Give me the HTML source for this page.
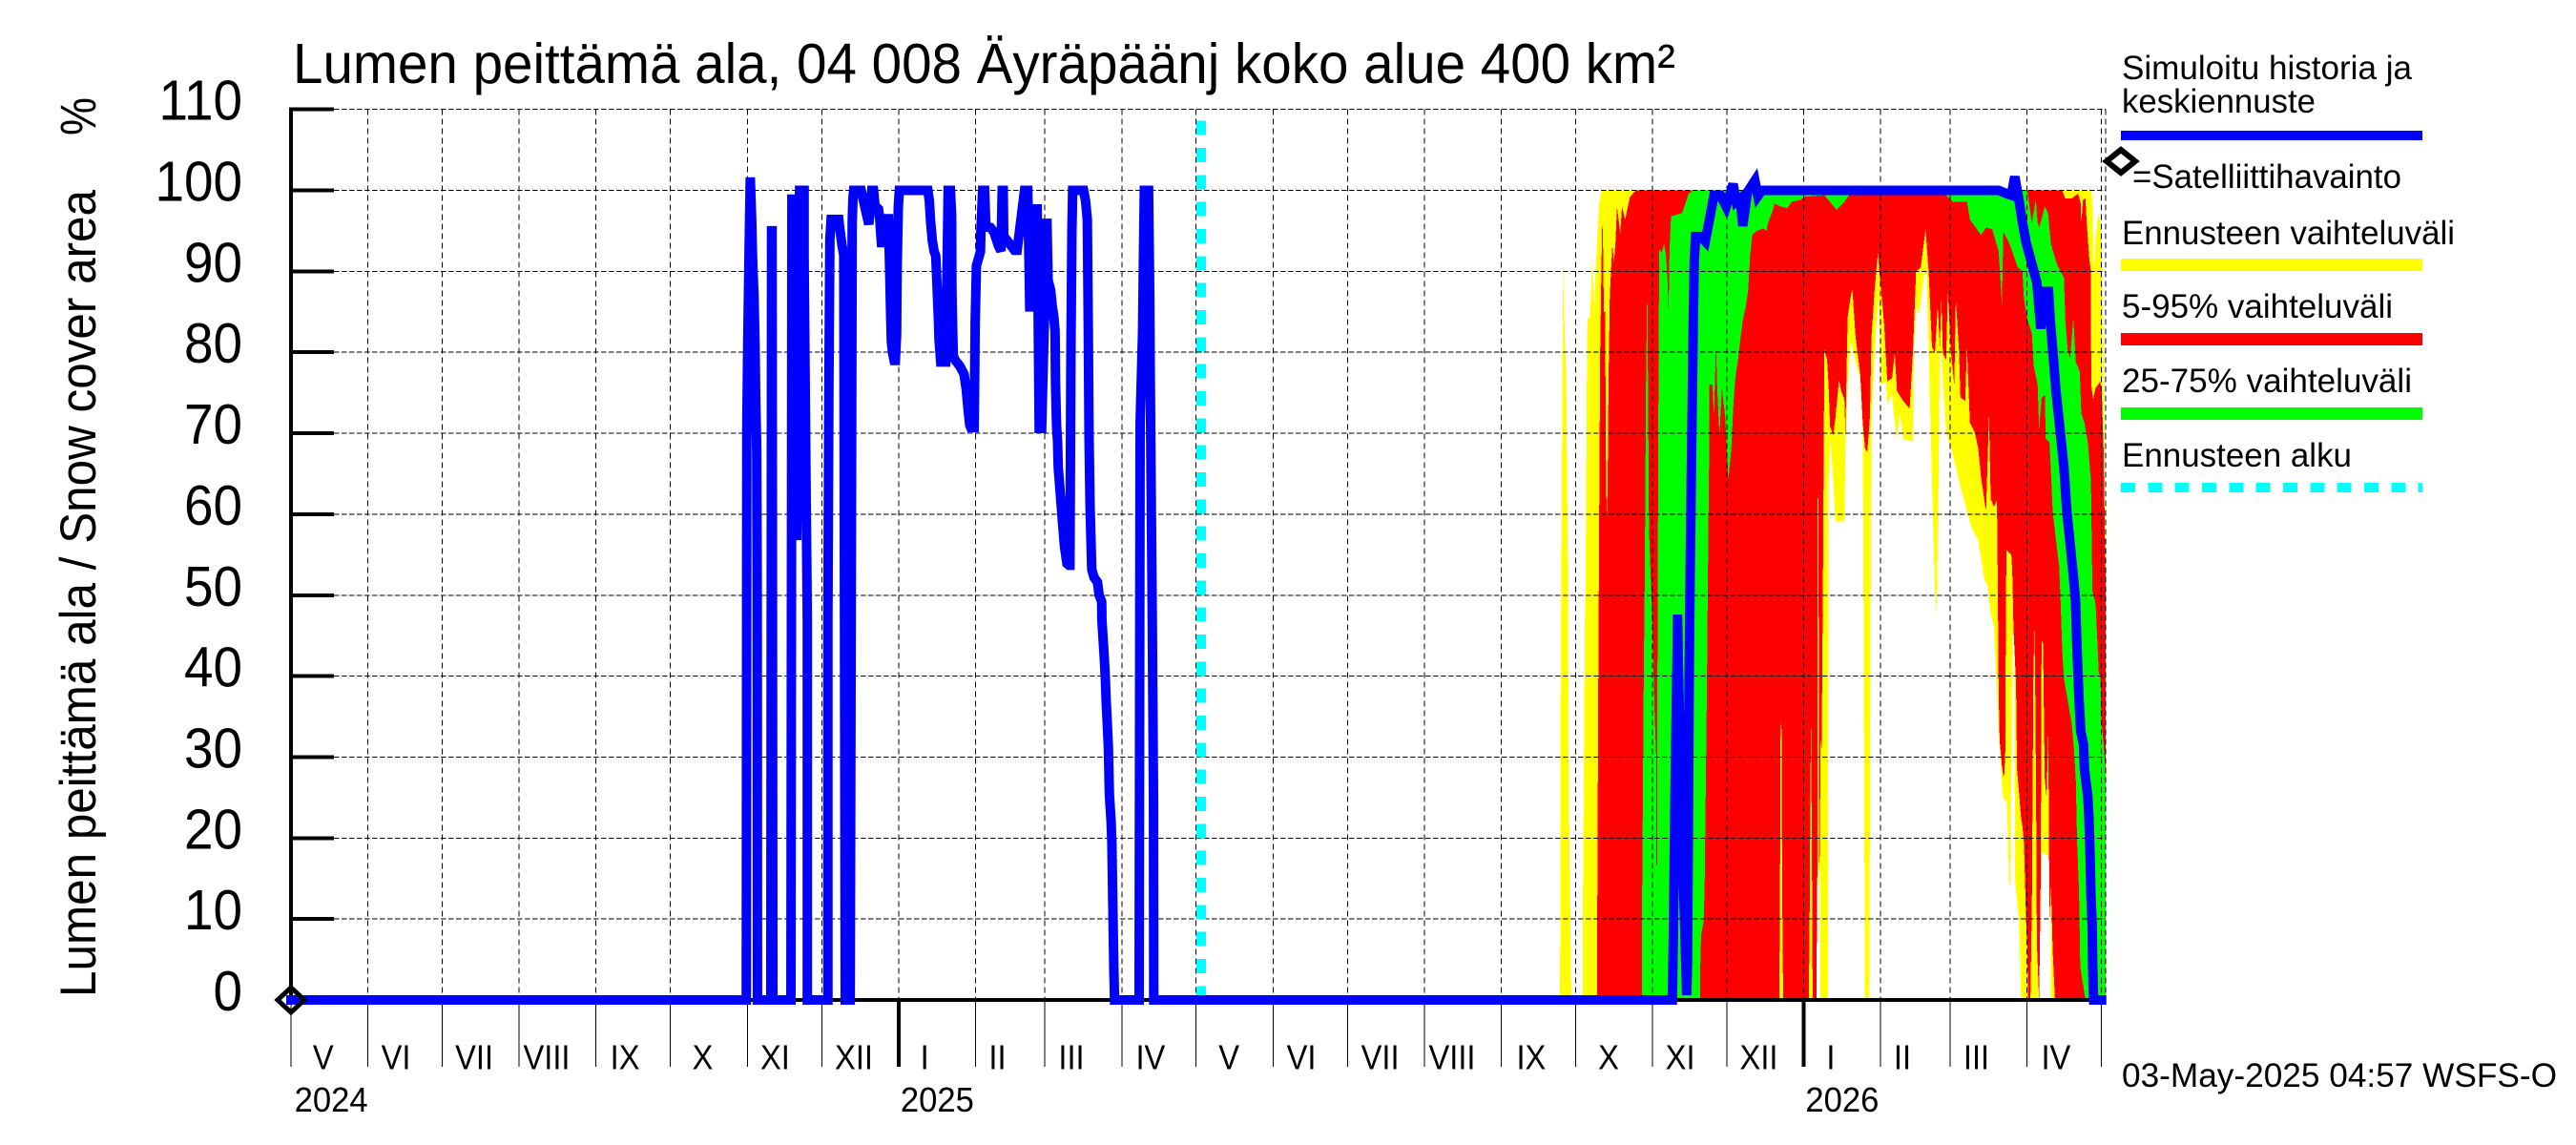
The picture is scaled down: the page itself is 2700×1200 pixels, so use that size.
<!DOCTYPE html>
<html lang="fi">
<head>
<meta charset="utf-8">
<title>Lumen peittämä ala</title>
<style>
html,body{margin:0;padding:0;background:#fff;}
svg{display:block;}
text{font-family:"Liberation Sans",Arial,sans-serif;fill:#000;}
</style>
</head>
<body>
<svg id="chart" xmlns="http://www.w3.org/2000/svg" width="2700" height="1200" viewBox="0 0 2700 1200">
  <rect x="0" y="0" width="2700" height="1200" fill="#fff"/>
  <g id="bands" shape-rendering="crispEdges"></g>
  <g id="grid" shape-rendering="crispEdges"></g>
  <g id="axes" shape-rendering="crispEdges"></g>
  <g id="series"></g>
  <g id="labels"></g>

  <text x="307" y="87" font-size="59" textLength="1449" lengthAdjust="spacingAndGlyphs">Lumen peittämä ala, 04 008 Äyräpäänj koko alue 400 km²</text>
  <text transform="translate(100,1045) rotate(-90)" font-size="53" textLength="846" lengthAdjust="spacingAndGlyphs">Lumen peittämä ala / Snow cover area</text>
  <text transform="translate(100,142) rotate(-90)" font-size="53" textLength="40" lengthAdjust="spacingAndGlyphs">%</text>

  <g>
    <text x="2224" y="83" font-size="35" textLength="304" lengthAdjust="spacingAndGlyphs">Simuloitu historia ja</text>
    <text x="2224" y="118" font-size="35" textLength="203" lengthAdjust="spacingAndGlyphs">keskiennuste</text>
    <rect x="2223" y="137" width="316" height="10" fill="#0000ff" shape-rendering="crispEdges"/>
    <polygon points="2223,157 2238,169 2223,181 2208,169" fill="#fff" stroke="#000" stroke-width="6"/>
    <text x="2235" y="197" font-size="35" textLength="282" lengthAdjust="spacingAndGlyphs">=Satelliittihavainto</text>
    <text x="2224" y="256" font-size="35" textLength="349" lengthAdjust="spacingAndGlyphs">Ennusteen vaihteluväli</text>
    <rect x="2223" y="271" width="316" height="13" fill="#ffff00" shape-rendering="crispEdges"/>
    <text x="2224" y="333" font-size="35" textLength="284" lengthAdjust="spacingAndGlyphs">5-95% vaihteluväli</text>
    <rect x="2223" y="349" width="316" height="13" fill="#ff0000" shape-rendering="crispEdges"/>
    <text x="2224" y="411" font-size="35" textLength="304" lengthAdjust="spacingAndGlyphs">25-75% vaihteluväli</text>
    <rect x="2223" y="427" width="316" height="13" fill="#00ff00" shape-rendering="crispEdges"/>
    <text x="2224" y="489" font-size="35" textLength="241" lengthAdjust="spacingAndGlyphs">Ennusteen alku</text>
    <line x1="2223" y1="511" x2="2539" y2="511" stroke="#00ffff" stroke-width="10" stroke-dasharray="15 13.33" shape-rendering="crispEdges"/>
  </g>
  <text x="2224" y="1139" font-size="35" textLength="456" lengthAdjust="spacingAndGlyphs">03-May-2025 04:57 WSFS-O</text>
</svg>
<script>
// ---- Axis values ----
const yTickValues = [0,10,20,30,40,50,60,70,80,90,100,110];
const monthStartDays = [0,31,61,92,123,153,184,214,245,276,304,335,365,396,426,457,488,518,549,579,610,641,669,700,730];
const yearStartDays = [245,610];
const monthLabels = ["V","VI","VII","VIII","IX","X","XI","XII","I","II","III","IV","V","VI","VII","VIII","IX","X","XI","XII","I","II","III","IV"];
const monthLabelDays = [13,42.3,73.9,103.1,134.7,166,195.2,227,255.5,284.9,314.7,346.6,378.2,407.4,439.2,468.2,500.1,531.3,560.2,591.9,620.9,649.8,679.6,711.7];
const yearLabels = ["2024","2025","2026"];
const yearLabelDays = [1.4,245.8,610.7];
const forecastStartDay = 367;
const satelliteDays = [0];
const satelliteValues = [0];
const lastDay = 731.8;

// ---- Simulated history and mean forecast (blue line) ----
const simDays = [0,183.6,183.8,184.2,184.7,185.2,185.8,186,186.3,186.7,187.1,187.4,187.8,188,188.1,193.5,193.8,194,194.3,201.6,202,203.9,205.1,206.9,206.9,207.3,207.7,208.2,208.2,216.5,216.5,216.9,217.3,217.8,220.9,221.2,222.2,222.9,223.1,223.5,225.5,226,226.3,226.6,226.9,229.9,233,234.2,234.9,235.5,236.9,237.4,238.2,238.8,240.9,241.4,241.8,242.1,242.6,243.2,243.7,244.2,244.4,244.9,245.3,256.8,257.4,257.9,258.6,259.3,260,260.4,261.1,261.3,262,264,265,265.9,266.4,266.5,266.8,267.1,267.9,269.7,271.4,272.3,273,273.7,274.1,275.5,275.9,276.4,278,278.2,278.9,279.7,280.2,282.1,283.5,285.2,286.3,286.8,287.2,287.4,288.3,290.3,291.7,292.8,295.8,297.1,297.9,298.6,299.3,300.9,301.7,302.7,304.8,305.3,306.3,307,307.6,308.1,308.3,308.7,309.1,309.4,310.1,311.1,311.9,312.9,313.7,314.1,314.5,314.9,315.2,319.6,320.4,321.1,321.5,321.8,322.2,322.9,323.8,325.2,325.9,326.9,327,328,328.4,328.7,329.1,329.6,330,330.7,331,331.4,331.8,332.1,342,342.4,343.4,343.8,344.1,345.8,346.3,346.5,346.8,347.3,347.8,347.9,557,557.4,557.8,558.2,558.6,559,559.1,559.4,561,562.8,563.1,563.5,563.8,564.2,564.7,565.1,565.5,565.9,566.4,568.5,570.3,573.8,576.4,578.7,581.5,582.8,584.4,585.4,587.3,590.3,591.5,593.1,688.6,691.8,693.7,695.1,696.9,698.2,699.7,702,704,705.6,706.2,708.7,709.4,710.4,711.7,713.6,714.9,716.1,717.4,718.7,719.6,720,720.6,721,721.7,722.8,723.2,723.8,724.5,725,725.5,725.8,726.3,726.5,726.8,726.9,730.1];
const simValues = [0,0,70.5,81.5,92,101.6,96,93,90,87,81,74,68,50,0,0,95,95,0,0,99.5,56.8,100,100,91.7,77.5,63.4,47,0,0,47,75.4,94,96.4,96.4,95.5,93.2,92,62,0,0,60,96,99,100,100,95.8,100,100,98.1,97.7,96.5,93,96.5,96.5,90.3,84.8,81.3,79.9,79,79,82.2,90,98,100,100,98.7,96.2,93.8,92.5,91.9,89,83.8,81.6,78.8,78.8,100,100,97,88,83,79.5,79,78.3,77.3,75.4,73,71,70.7,70.7,83.8,90.7,92.4,95,100,100,95.5,95.4,94.8,93.2,92.5,100,100,94,94,93.2,92.6,92.6,100,100,85.6,85.6,97.7,97.7,70.6,70.6,96.5,88.9,87.7,85.6,84.4,82.6,76.1,71,69,65.7,63,59,56,53.9,53.7,53.7,80,95,100,100,98.7,96.4,83,69.7,61.2,53.2,52.2,51.6,50,49.2,46.9,42,39.5,37,34.5,31.2,25.4,22,19.6,11.7,3.9,0,0,71.2,82.6,93.2,100,100,86.5,76.3,65,47,25,0,0,7.4,17.8,27.9,35.8,43.7,47.6,41.6,20,0.6,4.5,22,39.8,52.8,65.8,75.2,85,91.7,94.3,94.3,93.7,99.4,99.4,98,100.8,98.6,99,95.6,99.8,101.2,99.3,100,100,99.6,99.4,101.7,98.6,96,93.5,90.9,88.6,82.9,87.5,87.5,83.9,80.3,75.2,69.7,65.8,60.3,56.4,52.4,49.3,44.9,40.2,37.1,33.2,31.6,28.5,26.9,25.3,22.6,17.4,13.1,9.2,4.5,0.6,0,0];

// ---- Forecast envelope (yellow) ----
const maxDays = [511.7,511.8,512,512.3,512.7,512.9,513.6,514.2,514.6,514.9,515.1,515.5,516.3,520.9,521,521.4,521.8,522,522.3,522.6,522.8,523.8,524.2,524.7,525.5,526.4,527.4,528.1,529,725.8,726.4,726.9,727.7,728.7,729.6,730.2,730.9,731.5,731.8];
const maxValues = [0,8,43,52.8,78,90.5,82.3,76.8,63.4,52.8,34.7,18.6,0,0,14,31,47.7,50.5,63.4,79.1,84.2,84.2,87,91.5,85.4,92,98,99.6,100,100,99,89.8,94,97.2,96,92,81,60,55];
const minDays = [511.7,614.9,615.1,616.4,616.8,619.7,620,620.8,621.9,622.8,626.4,626.8,627.7,629,630.9,632.8,633.8,634.1,634.7,636.4,637,637.3,637.9,639.2,640.3,641.2,643.1,643.7,645.6,646.3,647.6,648.8,650.1,654,654.4,655.3,656.5,658.5,659.5,660.4,661.7,662.9,663.6,664.2,664.9,665.5,667.4,669.4,671.3,673.8,677.7,680.3,682.8,684.1,685.4,686.7,687.3,687.9,688.6,689.2,690.1,690.5,691.8,692.4,692.8,693.3,693.8,694.3,694.9,695.2,695.6,696.9,697.6,697.9,704.9,705.4,705.9,707.8,709.1,709.5,709.7,731.8];
const minValues = [0,0,13,17,0,0,64.2,69.3,64.2,59.1,59.1,68.2,76,81.5,78.8,76.8,70,50.5,0,0,50.5,71,76,83,87,76,76.4,73.6,74.8,72.5,69.3,72.5,69.3,69,80,85.8,84.6,89.6,89.8,80.3,64.2,50.5,47.7,60,80,79.7,70.1,68.2,65.8,62.7,58.3,56.8,51.9,51.2,47.7,46.1,42.2,38.3,33.2,30.4,26.1,24.9,24.5,20.2,14.3,14.3,36,45.7,45,15,13.5,9.6,0.2,0,0,10.8,18.2,18,17.4,13.5,0,0];

// ---- 5-95 % band (red) ----
const p95Days = [526.7,526.7,527.1,527.4,527.9,528.3,528.7,529,529.4,529.9,530.3,530.6,530.9,531.3,531.8,532.8,533.5,534.1,534.7,536,536.7,538,539.9,542.4,714.2,715.5,718.1,720.6,721.7,721.9,722.6,723.6,724.1,725.1,725.8,725.9,726.7,727.7,729.6,730.2,730.9,731.5,731.8];
const p95Values = [0,7,36,53,80,88,95.6,95,85,85,63.4,60,63,76.8,87,93.3,91.1,93.7,98,94.7,98,96.4,99.2,100,100,99,99,99.6,98.4,95.8,98.8,99,96,91.7,90,76,74.2,75.6,76.4,74.8,68,56,50];
const p5Days = [526.7,599.5,600.1,600.4,600.6,601,601.3,601.7,612,612.3,612.7,612.9,613.3,613.6,615.1,615.5,615.6,616,616.1,616.4,616.8,617.2,617.7,618.3,619.4,620,620.6,621.9,622.8,624.2,625.1,626.4,626.8,627.7,629,629.6,630.9,632.8,633.8,634.7,635.6,636.7,637.3,638.6,639.9,640.5,641.2,642.4,643.7,645.6,646.7,647.6,650.1,652.7,654,655.3,657.2,659.1,660.4,661.7,662.9,664,664.9,665.5,666.1,667.4,668.1,669.4,670.7,671.3,672.6,673.2,675.1,675.8,677,679,680.3,681.5,683.5,684.7,685.4,686.7,687.9,688.2,688.6,689,689.9,690.5,690.9,691.3,691.4,691.5,691.8,693.7,694.1,694.6,695.1,695.6,696,696.9,697.6,698.2,698.8,699.7,700.1,700.5,701.4,702,702.6,703,703.3,703.7,704,704.9,705.4,705.6,705.9,706.5,707.2,707.9,708.6,709.1,709.7,710.4,711.3,731.8];
const p5Values = [0,0,0,11,32,35.5,14,0,0,7,26,36.3,17,0,0,17,62,62,17,17,32,31,50,80.3,79.1,76,70.9,69.7,72,76.6,75.2,74.2,70,84.3,87,87.8,81.9,77.2,71.3,68.2,67.6,72.1,81.9,87.8,92.3,90,87.8,83.5,76.4,76.8,79.9,75.2,74,73,79.9,90,90.5,95.2,89.8,80.7,79.9,85.8,80.7,86.6,79.9,79.1,87.6,79.9,76,86.6,80.3,74.4,74,80.7,71.3,70.1,68.2,64.6,60.3,72.1,61.9,60.9,61.7,52.8,38,32,29,27.6,28,31,38,50,55.6,55,52.8,45.7,42.5,39,28.5,25.3,22.6,21.4,19.4,9.6,6.8,0,0,12,40,45.9,40,25,7,0,10.8,18,44.4,44,27.3,25,33,10,14,6,0,0];

// ---- 25-75 % band (green) ----
const p75Days = [544.7,544.7,545.1,545.5,545.9,546.4,546.9,547.3,547.6,548.2,548.6,549.9,550.5,550.6,550.9,551,551.3,551.7,552.7,553.7,554.4,555,555.5,555.9,556.5,561,562.3,563.6,565.5,700.1,702,703.6,704.3,705,707.2,708.5,709.7,712.3,714.9,715.5,716.4,717.4,718.7,719.7,721.3,721.9,723.2,724.5,725.8,726.4,727.7,728.3,729,729.6,730,730.9,731.5,731.8];
const p75Values = [0,7.6,24,40.6,52.8,76.4,89,72,58,53,50,35,30,16.7,16.7,40,67,92.7,92.3,93.4,92.1,89.4,85,93,96.8,97.2,98.4,99.6,100,100,96,98.8,96,95.4,98,97.2,93.3,90.7,89.2,83.9,80.3,79.2,84.3,78.8,77.6,72.5,71.3,69,64.2,50.5,48.9,45,40.2,40.2,34.7,31.6,29.2,27.7];
const p25Days = [544.7,568.2,568.2,568.6,569.7,570.1,570.5,570.9,571.3,571.8,571.9,573.2,573.8,574.6,575.1,576,577,578.3,579.6,580.9,581.5,582.4,583.5,584.4,585.4,586.7,587.6,588.3,589.2,591.1,593.7,595,595.6,597.6,598.2,600.8,603.3,605.2,608.5,610.4,618.3,620,623.2,626.4,628.3,667.4,670,675.8,677,681.5,683.5,686,688.6,689.9,690.5,693.1,696.3,698.2,698.8,700.1,702,702.7,704.3,704.9,705.9,707.2,707.6,709.1,709.7,710.4,713,713.6,714.2,714.9,716.4,718.1,719,719.7,720.2,721,721.5,723.6,731.8];
const p25Values = [0,0,2.8,8,9.8,15.5,26.5,37.5,50.8,65.8,76,76,72,81.1,75.6,69.7,75.6,72,64.2,68.5,72.9,76.8,79.1,81.5,83.9,85.8,87.8,91.7,94.5,95,95.3,95,96,97.6,98.4,98,97.8,98.6,98.8,99.2,99.4,98.8,97.6,98.6,99.4,99.4,98.6,98.6,96.4,94.5,95.4,95.2,92.5,86,94.9,93.3,90.5,90,86.6,84.2,82.3,78.4,76,70.5,74.4,74.8,69.3,68.9,65,60.3,53.5,48.9,43.4,39.8,37.1,34,30.8,27.3,19.8,13.5,4.1,0,0];

// ---- Scales ----
const plotLeft = 305, pxPerDay = 2.5993;
const plotBottom = 1048, pxPerPercent = 8.485;
const plotRight = 2207, tickEnd = 350;
function xScale(day){ return plotLeft + day * pxPerDay; }
function yScale(value){ return plotBottom - value * pxPerPercent; }

const NS = 'http://www.w3.org/2000/svg';
function make(parent, tag, props){
  const el = document.createElementNS(NS, tag);
  for (const k in props) el.setAttribute(k, props[k]);
  parent.appendChild(el);
  return el;
}
function linePoints(days, values){
  return days.map((d,i)=>xScale(d).toFixed(2)+','+yScale(values[i]).toFixed(2)).join(' ');
}
function bandPoints(upDays, upValues, loDays, loValues){
  const upper = upDays.map((d,i)=>xScale(d).toFixed(2)+','+yScale(upValues[i]).toFixed(2));
  const lower = loDays.map((d,i)=>xScale(d).toFixed(2)+','+yScale(loValues[i]).toFixed(2)).reverse();
  return upper.concat(lower).join(' ');
}

const bands = document.getElementById('bands');
const grid = document.getElementById('grid');
const axes = document.getElementById('axes');
const series = document.getElementById('series');
const labels = document.getElementById('labels');

// Bands
const bandYellow = make(bands, 'polygon', {points: bandPoints(maxDays,maxValues,minDays,minValues), fill:'#ffff00'});


const bandRed = make(bands, 'polygon', {points: bandPoints(p95Days,p95Values,p5Days,p5Values), fill:'#ff0000'});


const bandGreen = make(bands, 'polygon', {points: bandPoints(p75Days,p75Values,p25Days,p25Values), fill:'#00ff00'});



// Horizontal grid and y ticks
yTickValues.forEach(function(v){
  if (v > 0) {
    const g = make(grid, 'line', {x1:tickEnd, y1:yScale(v), x2:plotRight, y2:yScale(v), stroke:'#000', 'stroke-width':1, 'stroke-dasharray':'5.5 2.5'});
    
    
  }
  const t = make(axes, 'line', {x1:plotLeft, y1:yScale(v), x2:tickEnd, y2:yScale(v), stroke:'#000', 'stroke-width':4});
  
  
  const label = make(labels, 'text', {transform:'translate(254,'+(yScale(v)+11)+') scale(0.93,1)', 'font-size':59, 'text-anchor':'end'});
  
  
  label.textContent = String(v);
});

// Vertical grid and month ticks
monthStartDays.forEach(function(d){
  const g = make(grid, 'line', {x1:xScale(d), y1:yScale(110), x2:xScale(d), y2:plotBottom, stroke:'#000', 'stroke-width':1, 'stroke-dasharray':'6 4'});
  
  
  const t = make(axes, 'line', {x1:xScale(d), y1:plotBottom, x2:xScale(d), y2:1118, stroke:'#000', 'stroke-width':1});
  
  
});
const rightEdge = make(grid, 'line', {x1:xScale(lastDay), y1:yScale(110), x2:xScale(lastDay), y2:plotBottom, stroke:'#000', 'stroke-width':1, 'stroke-dasharray':'6 4'});



// Axis lines
const yAxis = make(axes, 'line', {x1:plotLeft, y1:yScale(110)-2, x2:plotLeft, y2:plotBottom+2, stroke:'#000', 'stroke-width':4});


const xAxis = make(axes, 'line', {x1:plotLeft, y1:plotBottom, x2:plotRight, y2:plotBottom, stroke:'#000', 'stroke-width':4});


yearStartDays.forEach(function(d){
  const t = make(axes, 'line', {x1:xScale(d), y1:plotBottom, x2:xScale(d), y2:1118, stroke:'#000', 'stroke-width':4});
  
  
});

// Month and year labels
monthLabels.forEach(function(m,i){
  const label = make(labels, 'text', {transform:'translate('+xScale(monthLabelDays[i]).toFixed(1)+',1120.5) scale(0.915,1)', 'font-size':35.7, 'text-anchor':'middle'});
  
  
  label.textContent = m;
});
yearLabels.forEach(function(y,i){
  const label = make(labels, 'text', {x:xScale(yearLabelDays[i]).toFixed(1), y:1165, 'font-size':36, textLength:77, lengthAdjust:'spacingAndGlyphs'});
  
  
  label.textContent = y;
});

// Forecast start marker
const fcLine = make(series, 'line', {x1:xScale(forecastStartDay)+0.2, y1:126.7, x2:xScale(forecastStartDay)+0.2, y2:plotBottom, stroke:'#00ffff', 'stroke-width':10, 'stroke-dasharray':'15 13.33', 'shape-rendering':'crispEdges'});



// Blue simulated line
const simLine = make(series, 'polyline', {points: linePoints(simDays, simValues), fill:'none', stroke:'#0000ff', 'stroke-width':10, 'stroke-linejoin':'miter', 'stroke-miterlimit':4, 'stroke-linecap':'square'});



// Satellite observation markers
satelliteDays.forEach(function(d,i){
  const cx = xScale(d), cy = yScale(satelliteValues[i]);
  const m = make(series, 'polygon', {points:[cx,cy-13,cx+14,cy,cx,cy+13,cx-14,cy].join(' '), fill:'none', stroke:'#000', 'stroke-width':5});
  
  
});
</script>
</body>
</html>
